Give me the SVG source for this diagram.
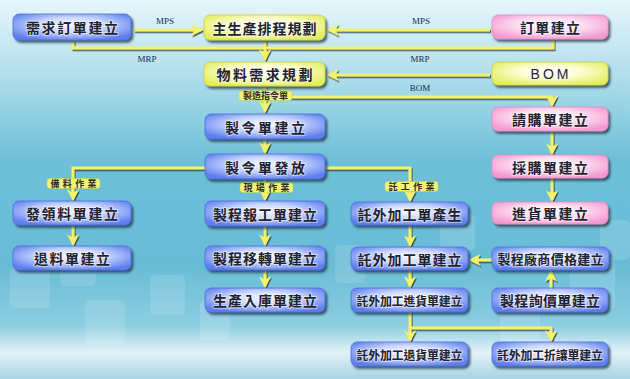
<svg xmlns="http://www.w3.org/2000/svg" width="630" height="379" viewBox="0 0 630 379">
<style>
.nt{font-family:"Noto Sans CJK TC","Noto Sans CJK SC",sans-serif;font-weight:bold;font-size:14px;fill:#1f2230;text-anchor:middle;dominant-baseline:central;paint-order:stroke;stroke:#ffffff;stroke-opacity:0.5;stroke-width:2px}
.s13{font-size:13px}
.s12{font-size:12px}
.lt{font-family:"Noto Sans CJK TC","Noto Sans CJK SC",sans-serif;font-weight:bold;font-size:9px;fill:#2a2a2a;text-anchor:middle;dominant-baseline:central}
.ct{font-family:"Liberation Serif",serif;font-size:9px;fill:#1b2a4a;text-anchor:middle}
.blue{fill:url(#gBlue);stroke:#4d6fe0;stroke-width:0.8}
.yel{fill:url(#gYel);stroke:#c8d040;stroke-width:0.8}
.pink{fill:url(#gPink);stroke:#e68cc6;stroke-width:0.8}
.node rect{filter:url(#sh)}
.c{fill:none;stroke:#f2f26e;stroke-width:3}
.ca{fill:none;stroke:#f2f26e;stroke-width:3;marker-end:url(#ah)}
.pill{fill:#f2f27a;stroke:#c9cc55;stroke-width:0.5}
.sq{fill:#ffffff;fill-opacity:0.13}
</style>
<defs>
<linearGradient id="bg" x1="0" y1="0" x2="0" y2="1">
<stop offset="0" stop-color="#e6f6fb"/>
<stop offset="0.2" stop-color="#b0deeb"/>
<stop offset="0.42" stop-color="#6ec0d9"/>
<stop offset="0.7" stop-color="#68bcd6"/>
<stop offset="0.86" stop-color="#8dcee1"/>
<stop offset="0.93" stop-color="#e4f2f7"/>
<stop offset="1" stop-color="#a6d3e3"/>
</linearGradient>
<radialGradient id="gBlue" cx="0.5" cy="0.42" r="0.62">
<stop offset="0" stop-color="#f6f8ff"/>
<stop offset="0.45" stop-color="#cbd8ff"/>
<stop offset="1" stop-color="#5f7fee"/>
</radialGradient>
<radialGradient id="gYel" cx="0.5" cy="0.42" r="0.62">
<stop offset="0" stop-color="#ffffff"/>
<stop offset="0.45" stop-color="#fbfdd0"/>
<stop offset="1" stop-color="#e2ee5a"/>
</radialGradient>
<radialGradient id="gPink" cx="0.5" cy="0.42" r="0.62">
<stop offset="0" stop-color="#ffffff"/>
<stop offset="0.45" stop-color="#fde0f0"/>
<stop offset="1" stop-color="#f49ad2"/>
</radialGradient>
<filter id="sh" x="-10%" y="-20%" width="125%" height="160%">
<feDropShadow dx="2" dy="2.5" stdDeviation="1" flood-color="#1e3040" flood-opacity="0.75"/>
</filter>
<filter id="lsh" x="-10%" y="-10%" width="120%" height="120%">
<feDropShadow dx="1" dy="1.5" stdDeviation="0.4" flood-color="#1e2a36" flood-opacity="0.8"/>
</filter>
<marker id="ah" markerUnits="userSpaceOnUse" markerWidth="12" markerHeight="12" refX="8" refY="5" orient="auto" viewBox="0 0 10 10">
<path d="M0,0 L10,5 L0,10 L2.5,5 z" fill="#f2f26e"/>
</marker>
</defs>

<rect x="0" y="0" width="630" height="379" fill="url(#bg)"/>
<g id="bgsquares">
<rect class="sq" x="10" y="268" width="40" height="40" rx="5"/>
<rect class="sq" x="60" y="250" width="36" height="36" rx="5"/>
<rect class="sq" x="85" y="300" width="40" height="45" rx="5"/>
<rect class="sq" x="150" y="275" width="35" height="40" rx="5"/>
<rect class="sq" x="200" y="300" width="30" height="40" rx="5"/>
<rect class="sq" x="335" y="245" width="30" height="38" rx="5"/>
<rect class="sq" x="500" y="300" width="40" height="45" rx="5"/>
<rect class="sq" x="570" y="260" width="45" height="50" rx="5"/>
<rect class="sq" x="600" y="220" width="30" height="40" rx="5"/>
<rect class="sq" x="440" y="215" width="35" height="35" rx="5"/>
</g>

<g id="connectors" filter="url(#lsh)">
<path class="ca" d="M134,30 H201"/>
<path class="ca" d="M490,30 H329"/>
<path class="c" d="M73,40 V48 H553 V39"/>
<path class="ca" d="M265,40 V59"/>
<path class="ca" d="M490,75 H329"/>
<path class="ca" d="M265,86 V111"/>
<path class="ca" d="M265,97 H552 V105"/>
<path class="ca" d="M265,139 V152"/>
<path class="ca" d="M265,179 V199"/>
<path class="ca" d="M205,168 H73 V199"/>
<path class="ca" d="M325,168 H410 V200"/>
<path class="ca" d="M552,131 V153"/>
<path class="ca" d="M552,178 V200"/>
<path class="ca" d="M73,225 V244"/>
<path class="ca" d="M265,226 V244"/>
<path class="ca" d="M265,270 V286"/>
<path class="ca" d="M410,225 V245"/>
<path class="ca" d="M410,270 V286"/>
<path class="ca" d="M492,260 H471"/>
<path class="ca" d="M551,288 V272"/>
<path class="ca" d="M410,312 V340"/>
<path class="ca" d="M410,328 H551 V340"/>
</g>

<g id="connector-labels">
<text class="ct" x="165" y="24">MPS</text>
<text class="ct" x="421" y="24">MPS</text>
<text class="ct" x="147" y="62">MRP</text>
<text class="ct" x="420" y="62">MRP</text>
<text class="ct" x="420" y="91">BOM</text>
<g id="lbl-zhizao"><rect class="pill" x="239" y="90.5" width="53" height="10" rx="3"/><text class="lt" x="265.5" y="95.5">製造指令單</text></g>
<g id="lbl-beiliao"><rect class="pill" x="47" y="178.5" width="53" height="10" rx="3"/><text class="lt" x="73.5" y="183.5" textLength="46" lengthAdjust="spacing">備料作業</text></g>
<g id="lbl-xianchang"><rect class="pill" x="240" y="182.5" width="53" height="10" rx="3"/><text class="lt" x="266.5" y="187.5" textLength="46" lengthAdjust="spacing">現場作業</text></g>
<g id="lbl-tuogong"><rect class="pill" x="385" y="181.5" width="53" height="10" rx="3"/><text class="lt" x="411.5" y="186.5" textLength="46" lengthAdjust="spacing">託工作業</text></g>
</g>

<g id="n1" class="node"><rect class="blue" x="13" y="14" width="118" height="26" rx="6"/><text class="nt" x="72" y="27" textLength="92" lengthAdjust="spacing">需求訂單建立</text></g>
<g id="n2" class="node"><rect class="yel" x="204" y="15" width="121" height="25" rx="6"/><text class="nt" x="264.5" y="27.5" textLength="104" lengthAdjust="spacing">主生產排程規劃</text></g>
<g id="n3" class="node"><rect class="pink" x="492" y="15" width="116" height="24" rx="6"/><text class="nt" x="550" y="27" textLength="60" lengthAdjust="spacing">訂單建立</text></g>
<g id="n4" class="node"><rect class="yel" x="204" y="62" width="121" height="24" rx="6"/><text class="nt" x="264.5" y="74" textLength="96" lengthAdjust="spacing">物料需求規劃</text></g>
<g id="n5" class="node"><rect class="yel" x="492" y="62" width="116" height="23" rx="6"/><text class="nt" x="551" y="73.5" style="font-family:'Liberation Sans',sans-serif;font-weight:normal;letter-spacing:3px">BOM</text></g>
<g id="n6" class="node"><rect class="blue" x="205" y="114" width="120" height="25" rx="6"/><text class="nt" x="265" y="126.5" textLength="80" lengthAdjust="spacing">製令單建立</text></g>
<g id="n7" class="node"><rect class="pink" x="492" y="107" width="116" height="24" rx="6"/><text class="nt" x="550" y="119" textLength="76" lengthAdjust="spacing">請購單建立</text></g>
<g id="n8" class="node"><rect class="blue" x="205" y="154" width="120" height="25" rx="6"/><text class="nt" x="265" y="166.5" textLength="80" lengthAdjust="spacing">製令單發放</text></g>
<g id="n9" class="node"><rect class="pink" x="492" y="155" width="116" height="23" rx="6"/><text class="nt" x="550" y="166.5" textLength="76" lengthAdjust="spacing">採購單建立</text></g>
<g id="n10" class="node"><rect class="blue" x="13" y="201" width="118" height="24" rx="6"/><text class="nt" x="72" y="213" textLength="92" lengthAdjust="spacing">發領料單建立</text></g>
<g id="n11" class="node"><rect class="blue" x="205" y="201" width="120" height="25" rx="6"/><text class="nt" x="265" y="213.5" textLength="104" lengthAdjust="spacing">製程報工單建立</text></g>
<g id="n12" class="node"><rect class="blue" x="351" y="202" width="117" height="23" rx="6"/><text class="nt" x="409.5" y="213.5" textLength="104" lengthAdjust="spacing">託外加工單產生</text></g>
<g id="n13" class="node"><rect class="pink" x="492" y="202" width="116" height="22" rx="6"/><text class="nt" x="550" y="213" textLength="76" lengthAdjust="spacing">進貨單建立</text></g>
<g id="n14" class="node"><rect class="blue" x="13" y="246" width="118" height="24" rx="6"/><text class="nt" x="72" y="258" textLength="76" lengthAdjust="spacing">退料單建立</text></g>
<g id="n15" class="node"><rect class="blue" x="205" y="246" width="120" height="24" rx="6"/><text class="nt" x="265" y="258" textLength="104" lengthAdjust="spacing">製程移轉單建立</text></g>
<g id="n16" class="node"><rect class="blue" x="351" y="247" width="117" height="23" rx="6"/><text class="nt" x="409.5" y="258.5" textLength="104" lengthAdjust="spacing">託外加工單建立</text></g>
<g id="n17" class="node"><rect class="blue" x="492" y="247" width="117" height="23" rx="6"/><text class="nt s13" x="550.5" y="258.5" textLength="106" lengthAdjust="spacing">製程廠商價格建立</text></g>
<g id="n18" class="node"><rect class="blue" x="205" y="288" width="120" height="24" rx="6"/><text class="nt" x="265" y="300" textLength="104" lengthAdjust="spacing">生產入庫單建立</text></g>
<g id="n19" class="node"><rect class="blue" x="351" y="288" width="117" height="24" rx="6"/><text class="nt s12" x="409.5" y="300" textLength="106" lengthAdjust="spacing">託外加工進貨單建立</text></g>
<g id="n20" class="node"><rect class="blue" x="492" y="288" width="116" height="24" rx="6"/><text class="nt" x="550" y="300" textLength="100" lengthAdjust="spacing">製程詢價單建立</text></g>
<g id="n21" class="node"><rect class="blue" x="351" y="342" width="117" height="24" rx="6"/><text class="nt s12" x="409.5" y="354" textLength="106" lengthAdjust="spacing">託外加工退貨單建立</text></g>
<g id="n22" class="node"><rect class="blue" x="492" y="342" width="116" height="24" rx="6"/><text class="nt s12" x="550" y="354" textLength="106" lengthAdjust="spacing">託外加工折讓單建立</text></g>
</svg>
